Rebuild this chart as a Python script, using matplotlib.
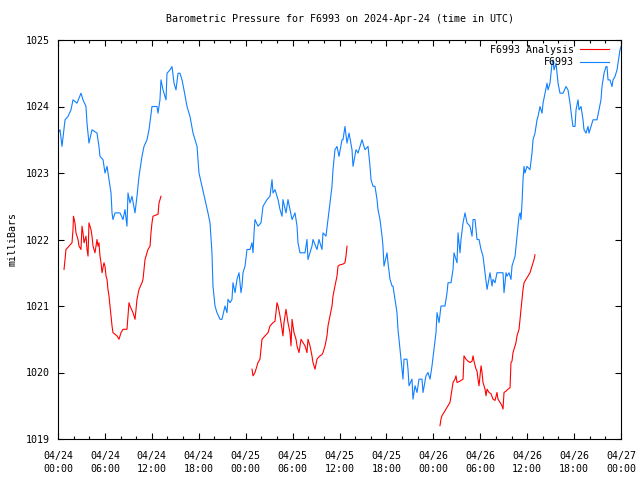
import matplotlib
matplotlib.use("Agg")
import matplotlib.pyplot as plt
import numpy as np

# ---------------- data (hours since 2024-04-24 00:00 UTC, millibars) ----------------
blue_hours = [0.00, 0.26, 0.51, 0.90, 1.28, 1.66, 1.92, 2.43, 2.94, 3.20, 3.58, 3.71, 3.96, 4.35, 4.99, 5.24, 5.37, 5.76, 6.01, 6.27,
              6.52, 6.78, 6.91, 7.03, 7.29, 7.93, 8.31, 8.57, 8.82, 8.95, 9.21, 9.46, 9.85, 10.10, 10.36, 10.74, 11.00, 11.38, 11.64, 12.02,
              12.66, 12.79, 13.04, 13.17, 13.43, 13.81, 13.94, 14.32, 14.58, 14.84, 15.09, 15.35, 15.60, 15.86, 16.11, 16.50, 16.88, 17.27, 17.78, 18.03,
              18.42, 18.80, 19.18, 19.44, 19.69, 19.82, 20.08, 20.33, 20.72, 20.97, 21.36, 21.61, 21.74, 22.00, 22.25, 22.38, 22.64, 22.89, 23.15, 23.40,
              23.53, 23.66, 23.92, 24.17, 24.56, 24.81, 24.94, 25.07, 25.19, 25.58, 25.96, 26.22, 26.73, 27.11, 27.37, 27.50, 27.75, 28.14, 28.39, 28.65,
              28.77, 29.16, 29.41, 29.67, 29.93, 30.31, 30.57, 30.69, 30.95, 31.59, 31.84, 31.97, 32.48, 32.61, 33.12, 33.38, 33.76, 33.89, 34.27, 34.53,
              34.78, 35.04, 35.17, 35.42, 35.68, 35.94, 36.32, 36.45, 36.70, 36.96, 37.22, 37.60, 37.73, 38.11, 38.37, 38.88, 39.26, 39.65, 39.90, 40.03,
              40.29, 40.54, 40.80, 40.92, 41.18, 41.44, 41.56, 41.69, 42.08, 42.20, 42.46, 42.72, 42.84, 43.10, 43.35, 43.48, 43.74, 43.87, 44.12, 44.25,
              44.63, 44.76, 44.89, 45.27, 45.40, 45.66, 45.91, 46.17, 46.55, 46.68, 47.06, 47.32, 47.58, 47.83, 48.09, 48.34, 48.47, 48.73, 48.98, 49.49,
              49.75, 49.88, 50.26, 50.52, 50.64, 51.03, 51.16, 51.41, 51.54, 51.80, 52.05, 52.31, 52.69, 52.95, 53.08, 53.33, 53.59, 53.84, 54.10, 54.35,
              54.61, 54.87, 55.25, 55.51, 55.63, 55.89, 56.14, 56.53, 56.91, 57.04, 57.30, 57.42, 57.68, 57.93, 58.06, 58.19, 58.45, 58.70, 58.96, 59.09,
              59.21, 59.34, 59.47, 59.60, 59.72, 59.98, 60.36, 60.62, 60.75, 61.00, 61.26, 61.39, 61.64, 61.90, 62.03, 62.28, 62.54, 62.67, 62.92, 63.18,
              63.31, 63.43, 63.69, 63.82, 63.95, 64.20, 64.58, 64.97, 65.22, 65.48, 65.74, 65.86, 66.12, 66.25, 66.50, 66.63, 66.89, 67.14, 67.27, 67.53,
              67.78, 67.91, 68.29, 68.42, 68.93, 69.19, 69.44, 69.57, 69.83, 70.08, 70.21, 70.34, 70.59, 70.85, 70.98, 71.23, 71.49, 71.62, 71.87, 72.00]
blue_mbar = [1023.6, 1023.65, 1023.4, 1023.8, 1023.85, 1023.95, 1024.1, 1024.05, 1024.2, 1024.1, 1024.0, 1023.75, 1023.45, 1023.65, 1023.6, 1023.4, 1023.25, 1023.2, 1023.0, 1023.1,
             1022.9, 1022.7, 1022.4, 1022.3, 1022.4, 1022.4, 1022.3, 1022.45, 1022.2, 1022.7, 1022.55, 1022.65, 1022.4, 1022.65, 1022.95, 1023.25, 1023.4, 1023.5, 1023.65, 1024.0,
             1024.0, 1023.9, 1024.1, 1024.4, 1024.25, 1024.1, 1024.5, 1024.55, 1024.6, 1024.35, 1024.25, 1024.5, 1024.5, 1024.4, 1024.25, 1024.0, 1023.85, 1023.6, 1023.4, 1023.0,
             1022.8, 1022.6, 1022.4, 1022.25, 1021.8, 1021.3, 1021.0, 1020.9, 1020.8, 1020.8, 1021.0, 1020.9, 1021.1, 1021.05, 1021.1, 1021.35, 1021.2, 1021.4, 1021.5, 1021.2,
             1021.3, 1021.5, 1021.6, 1021.85, 1021.85, 1021.95, 1021.8, 1022.1, 1022.3, 1022.2, 1022.25, 1022.5, 1022.6, 1022.65, 1022.9, 1022.7, 1022.75, 1022.6, 1022.45, 1022.35,
             1022.6, 1022.4, 1022.6, 1022.45, 1022.3, 1022.4, 1022.2, 1021.95, 1021.8, 1021.8, 1022.0, 1021.7, 1021.9, 1022.0, 1021.85, 1022.0, 1021.85, 1022.1, 1022.05, 1022.3,
             1022.55, 1022.8, 1023.05, 1023.35, 1023.4, 1023.25, 1023.5, 1023.5, 1023.7, 1023.45, 1023.6, 1023.35, 1023.1, 1023.35, 1023.3, 1023.5, 1023.35, 1023.4, 1023.1, 1022.9,
             1022.8, 1022.8, 1022.6, 1022.45, 1022.3, 1022.05, 1021.9, 1021.6, 1021.8, 1021.65, 1021.4, 1021.3, 1021.3, 1021.1, 1020.9, 1020.65, 1020.35, 1020.2, 1019.9, 1020.2,
             1020.2, 1020.05, 1019.8, 1019.9, 1019.6, 1019.8, 1019.7, 1019.9, 1019.9, 1019.7, 1019.95, 1020.0, 1019.9, 1020.1, 1020.35, 1020.6, 1020.9, 1020.75, 1021.0, 1021.0,
             1021.2, 1021.35, 1021.35, 1021.55, 1021.8, 1021.65, 1022.1, 1021.8, 1022.0, 1022.25, 1022.4, 1022.25, 1022.2, 1022.05, 1022.3, 1022.3, 1022.0, 1022.0, 1021.85, 1021.75,
             1021.5, 1021.25, 1021.5, 1021.3, 1021.4, 1021.35, 1021.5, 1021.5, 1021.5, 1021.2, 1021.5, 1021.45, 1021.5, 1021.4, 1021.6, 1021.65, 1021.75, 1022.05, 1022.35, 1022.4,
             1022.3, 1022.55, 1022.9, 1023.1, 1023.0, 1023.1, 1023.05, 1023.3, 1023.5, 1023.6, 1023.8, 1023.85, 1024.0, 1023.9, 1024.05, 1024.2, 1024.35, 1024.25, 1024.35, 1024.65,
             1024.7, 1024.55, 1024.65, 1024.5, 1024.35, 1024.2, 1024.2, 1024.3, 1024.25, 1024.05, 1023.8, 1023.7, 1023.7, 1023.95, 1024.1, 1023.95, 1024.0, 1023.8, 1023.65, 1023.6,
             1023.7, 1023.6, 1023.75, 1023.8, 1023.8, 1023.95, 1024.1, 1024.3, 1024.5, 1024.6, 1024.6, 1024.4, 1024.4, 1024.3, 1024.4, 1024.45, 1024.55, 1024.65, 1024.85, 1024.9]

anl1_hours = [0.77, 0.90, 1.02, 1.79, 1.92, 1.98, 2.17, 2.30, 2.56, 2.69, 2.94, 3.07, 3.20, 3.33, 3.58, 3.71, 3.84, 3.96, 4.22, 4.35,
              4.48, 4.73, 4.99, 5.12, 5.24, 5.37, 5.50, 5.63, 5.88, 6.01, 6.14, 6.27, 6.39, 6.52, 6.65, 6.78, 6.91, 7.03, 7.55, 7.80,
              8.06, 8.31, 8.82, 8.95, 9.08, 9.21, 9.59, 9.85, 9.98, 10.10, 10.36, 10.74, 10.87, 11.00, 11.13, 11.38, 11.51, 11.77, 11.89, 12.02,
              12.15, 12.79, 12.92, 13.17]
anl1_mbar = [1021.55, 1021.7, 1021.85, 1021.95, 1022.15, 1022.35, 1022.25, 1022.1, 1022.0, 1021.9, 1021.85, 1022.2, 1022.1, 1021.95, 1022.05, 1021.85, 1021.75, 1022.25, 1022.15, 1022.05,
             1021.9, 1021.8, 1022.0, 1021.9, 1021.95, 1021.75, 1021.65, 1021.5, 1021.65, 1021.6, 1021.45, 1021.4, 1021.25, 1021.15, 1021.0, 1020.85, 1020.7, 1020.6, 1020.55, 1020.5,
             1020.6, 1020.65, 1020.65, 1020.85, 1021.05, 1021.0, 1020.9, 1020.8, 1020.95, 1021.1, 1021.25, 1021.35, 1021.4, 1021.55, 1021.7, 1021.8, 1021.85, 1021.9, 1022.1, 1022.25,
             1022.35, 1022.38, 1022.55, 1022.65]

anl2_hours = [24.81, 24.94, 25.19, 25.58, 25.83, 25.96, 26.09, 26.47, 26.86, 27.11, 27.50, 27.75, 28.01, 28.14, 28.39, 28.65, 28.77, 28.90, 29.16, 29.29,
              29.41, 29.67, 29.80, 29.93, 30.05, 30.18, 30.44, 30.57, 30.69, 30.82, 31.08, 31.33, 31.59, 31.84, 31.97, 32.23, 32.48, 32.61, 32.87, 33.12,
              33.25, 33.51, 33.76, 33.89, 34.15, 34.40, 34.53, 34.78, 35.04, 35.17, 35.42, 35.68, 35.81, 36.06, 36.45, 36.70, 36.83, 36.96]
anl2_mbar = [1020.05, 1019.95, 1020.0, 1020.15, 1020.2, 1020.35, 1020.5, 1020.55, 1020.6, 1020.7, 1020.75, 1020.77, 1021.05, 1021.0, 1020.85, 1020.65, 1020.55, 1020.75, 1020.95, 1020.85,
             1020.75, 1020.6, 1020.4, 1020.8, 1020.7, 1020.6, 1020.5, 1020.4, 1020.35, 1020.3, 1020.5, 1020.45, 1020.4, 1020.3, 1020.5, 1020.4, 1020.25, 1020.15, 1020.05, 1020.2,
             1020.22, 1020.25, 1020.27, 1020.3, 1020.4, 1020.55, 1020.7, 1020.85, 1021.0, 1021.15, 1021.3, 1021.45, 1021.6, 1021.62, 1021.63, 1021.65, 1021.75, 1021.9]

anl3_hours = [48.85, 48.98, 49.11, 49.37, 49.62, 49.88, 50.13, 50.26, 50.39, 50.52, 50.77, 50.90, 51.03, 51.41, 51.80, 51.92, 52.18, 52.43, 52.69, 52.95,
              53.08, 53.20, 53.46, 53.59, 53.71, 53.84, 54.10, 54.23, 54.35, 54.61, 54.74, 54.87, 55.12, 55.38, 55.63, 55.89, 56.14, 56.27, 56.53, 56.78,
              56.91, 57.04, 57.30, 57.55, 57.81, 57.93, 58.06, 58.19, 58.45, 58.57, 58.70, 58.96, 59.09, 59.21, 59.34, 59.47, 59.60, 59.85, 60.11, 60.36,
              60.62, 60.88, 61.00]
anl3_mbar = [1019.2, 1019.3, 1019.35, 1019.4, 1019.45, 1019.5, 1019.55, 1019.65, 1019.75, 1019.85, 1019.9, 1019.95, 1019.85, 1019.87, 1019.9, 1020.25, 1020.2, 1020.17, 1020.15, 1020.17,
             1020.25, 1020.17, 1020.05, 1020.02, 1019.9, 1019.8, 1020.1, 1020.0, 1019.85, 1019.75, 1019.65, 1019.75, 1019.7, 1019.68, 1019.6, 1019.58, 1019.7, 1019.6, 1019.55, 1019.5,
             1019.45, 1019.7, 1019.72, 1019.75, 1019.77, 1020.15, 1020.17, 1020.3, 1020.4, 1020.45, 1020.55, 1020.65, 1020.8, 1020.95, 1021.1, 1021.25, 1021.35, 1021.4, 1021.45, 1021.5,
             1021.6, 1021.7, 1021.77]

xtick_hours = [0, 6, 12, 18, 24, 30, 36, 42, 48, 54, 60, 66, 72]
xtick_labels = ["04/24\n00:00", "04/24\n06:00", "04/24\n12:00", "04/24\n18:00",
                "04/25\n00:00", "04/25\n06:00", "04/25\n12:00", "04/25\n18:00",
                "04/26\n00:00", "04/26\n06:00", "04/26\n12:00", "04/26\n18:00",
                "04/27\n00:00"]
ytick_vals = [1019, 1020, 1021, 1022, 1023, 1024, 1025]

title = "Barometric Pressure for F6993 on 2024-Apr-24 (time in UTC)"
ylabel = "milliBars"
analysis_label = "F6993 Analysis"
obs_label = "F6993"

# ---------------- plot ----------------
plt.rcParams['font.family'] = ['DejaVu Sans Mono']
FS = 7.2
RED = "#ff0000"
BLUE = "#1080ff"
LW = 0.8

fig = plt.figure(figsize=(6.4, 4.8), dpi=100)
ax = fig.add_axes([58/640, 41/480, (621-58)/640, (440-41)/480])

ax.plot(anl1_hours, anl1_mbar, color=RED, lw=LW, label=analysis_label)
ax.plot(anl2_hours, anl2_mbar, color=RED, lw=LW)
ax.plot(anl3_hours, anl3_mbar, color=RED, lw=LW)
ax.plot(blue_hours, blue_mbar, color=BLUE, lw=LW, label=obs_label)

ax.set_xlim(0, 72)
ax.set_ylim(1019, 1025)
ax.set_xticks(xtick_hours)
ax.set_xticklabels(xtick_labels, fontsize=FS, linespacing=1.25)
ax.set_xticks(np.arange(0, 73, 2), minor=True)
ax.set_yticks(ytick_vals)
ax.set_yticklabels([str(v) for v in ytick_vals], fontsize=FS)
ax.tick_params(which='both', direction='in', top=True, right=True, width=0.8, color='black')
ax.tick_params(which='major', length=4.5)
ax.tick_params(which='minor', length=2.5)
ax.tick_params(axis='x', which='major', pad=9)
ax.tick_params(axis='y', which='major', pad=6)
for s in ax.spines.values():
    s.set_linewidth(0.8)

ax.set_title(title, fontsize=FS, pad=13)
ax.set_ylabel(ylabel, fontsize=FS, labelpad=6)

leg = ax.legend(loc='upper right', bbox_to_anchor=(1 - 7/563, 1.0), frameon=False,
                markerfirst=False, fontsize=FS,
                handlelength=2.9, handletextpad=0.6, labelspacing=0.25,
                borderaxespad=0.2, borderpad=0.3)

fig.savefig("out.png", dpi=100)
